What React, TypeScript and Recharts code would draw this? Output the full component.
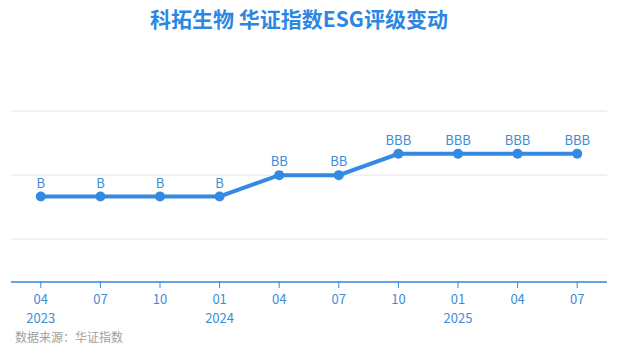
import React from "react";
import { LineChart, Line, XAxis, YAxis, CartesianGrid, LabelList } from "recharts";

const months = ["04", "07", "10", "01", "04", "07", "10", "01", "04", "07"];
const years = ["2023", "", "", "2024", "", "", "", "2025", "", ""];
const ratings = ["B", "B", "B", "B", "BB", "BB", "BBB", "BBB", "BBB", "BBB"];
const ratingScale = ["C", "CC", "CCC", "B", "BB", "BBB", "A", "AA", "AAA"];

const data = months.map((m, i) => ({
  key: `${i}`,
  month: m,
  year: years[i],
  rating: ratings[i],
  value: ratingScale.indexOf(ratings[i]),
}));

const BLUE = "#3489E3";
const TICK_BLUE = "#3E8CD8";
const FONT = "'Noto Sans CJK SC', 'Noto Sans', sans-serif";

const Tick = (props: any) => {
  const { x, y, payload } = props;
  const d = data[payload.index] || data.find((r) => r.key === payload.value);
  return (
    <g>
      <text x={x} y={y + 14} textAnchor="middle" fill={TICK_BLUE} fontSize={13} fontFamily={FONT}>
        {d ? d.month : ""}
      </text>
      {d && d.year ? (
        <text x={x} y={y + 33} textAnchor="middle" fill={TICK_BLUE} fontSize={13} fontFamily={FONT}>
          {d.year}
        </text>
      ) : null}
    </g>
  );
};

export default function App() {
  return (
    <div style={{ position: "absolute", left: 0, top: 0, width: 618, height: 355, background: "#fff", fontFamily: FONT }}>
      <div
        style={{
          position: "absolute",
          top: 3,
          left: 0,
          width: 598,
          textAlign: "center",
          fontSize: 21,
          fontWeight: 700,
          color: "#2C86E3",
          fontFamily: FONT,
        }}
      >
        科拓生物 华证指数ESG评级变动
      </div>
      <LineChart
        width={618}
        height={355}
        data={data}
        margin={{ top: 111, left: 11, right: 11, bottom: 13 }}
      >
        <CartesianGrid vertical={false} stroke="#EEEEEE" strokeWidth={1.5} />
        <YAxis hide type="number" domain={[-1, 7]} ticks={[1, 4, 7]} />
        <XAxis
          dataKey="key"
          scale="band"
          height={60}
          interval={0}
          axisLine={{ stroke: BLUE, strokeWidth: 1.5 }}
          tickLine={{ stroke: BLUE }}
          tickSize={6}
          tick={<Tick />}
        />
        <Line
          type="linear"
          dataKey="value"
          stroke={BLUE}
          strokeWidth={4}
          dot={{ r: 5, fill: BLUE, stroke: BLUE, strokeWidth: 0 }}
          activeDot={false}
          isAnimationActive={false}
        >
          <LabelList
            dataKey="rating"
            position="top"
            offset={9}
            fill={TICK_BLUE}
            fontSize={13}
            fontFamily={FONT}
          />
        </Line>
      </LineChart>
      <div
        style={{
          position: "absolute",
          left: 15,
          top: 328,
          fontSize: 12,
          color: "#A0A0A0",
          fontFamily: FONT,
        }}
      >
        数据来源：华证指数
      </div>
    </div>
  );
}
